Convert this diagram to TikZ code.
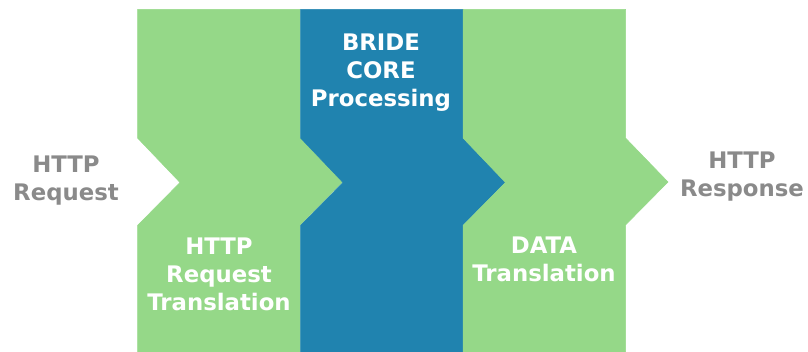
\documentclass[tikz,border=0pt]{standalone}
\usepackage{fontspec}
\setmainfont{DejaVu Sans}
\definecolor{chevgreen}{RGB}{149,216,136}
\definecolor{chevblue}{RGB}{32,131,175}
\definecolor{labgray}{RGB}{138,138,138}
\begin{document}
\begin{tikzpicture}[x=1pt,y=-1pt,
  label/.style={align=center,font=\bfseries\fontsize{22.8}{28}\selectfont,inner sep=0pt},
  outer/.style={label,text=labgray},
  inner/.style={label,text=white}]
\useasboundingbox (0,0) rectangle (808,352);
% chevrons: left edge, colour
\foreach \l/\c in {137.5/chevgreen, 300.5/chevblue, 463/chevgreen}
  \filldraw[fill=\c,draw=\c,line width=0.5pt,line join=miter]
    (\l,9.5) -- ++(162.5,0) -- ++(0,128.5) -- ++(42.5,44)
    -- ++(-42.5,43) -- (\l+162.5,352) -- (\l,352) -- (\l,225.5)
    -- ++(42.5,-43) -- (\l,138) -- cycle;
\node[outer] (req) at (66,181) {HTTP\\Request};
\node[outer] (resp) at (742,177) {HTTP\\Response};
\node[inner] (reqtr) at (219,274) {HTTP\\Request\\Translation};
\node[inner] (core) at (381,73) {BRIDE\\CORE\\Processing};
\node[inner] (datatr) at (544,259) {DATA\\Translation};
\end{tikzpicture}
\end{document}
